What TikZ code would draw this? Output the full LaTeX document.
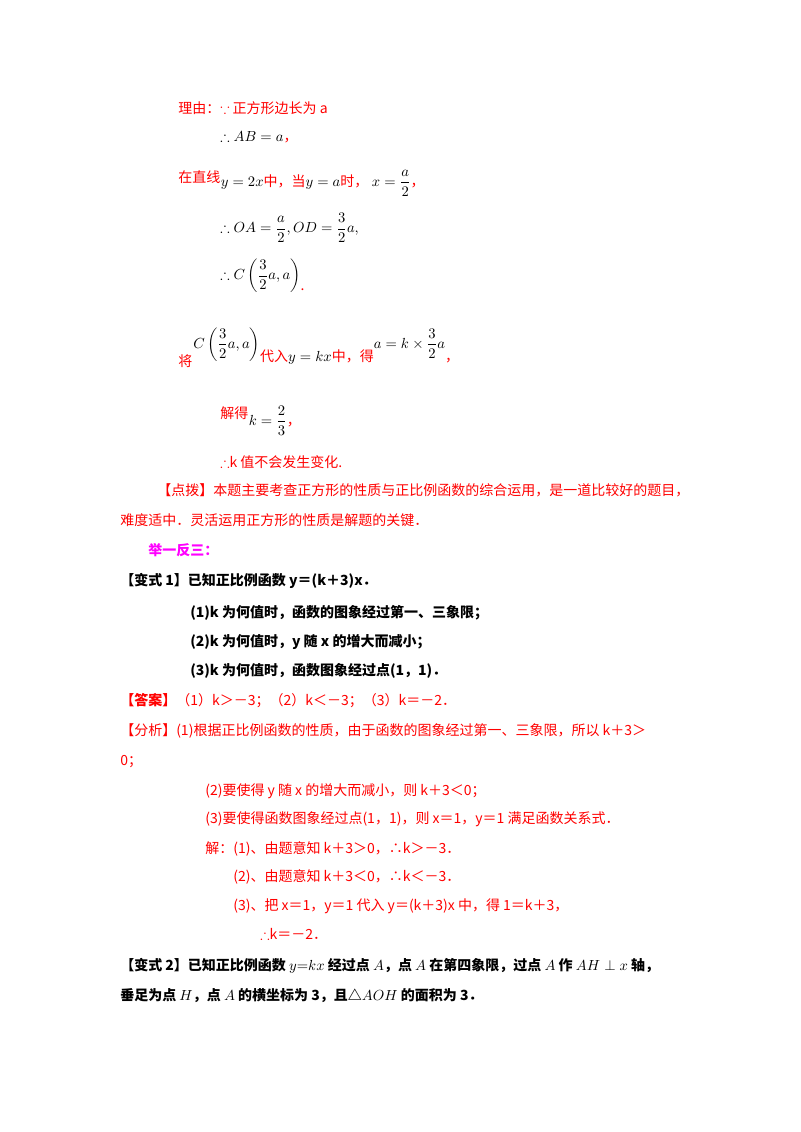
\documentclass[tikz,border=0pt]{standalone}
\usepackage{amsmath,amssymb}
\usepackage{fontspec}
\setmainfont{Liberation Serif}
\newfontfamily\cjk{Noto Sans CJK SC}
\definecolor{rd}{RGB}{255,0,0}
\definecolor{mg}{RGB}{255,0,255}
\begin{document}
\begin{tikzpicture}[x=0.75pt,y=-0.75pt,
  t/.style={anchor=base west,inner sep=0pt,font=\fontsize{10.5}{12}\selectfont\cjk},
  r/.style={t,text=rd},
  b/.style={t,text=black,font=\fontsize{10.5}{12}\selectfont\cjk\bfseries},
  m/.style={anchor=west,inner sep=0pt,font=\fontsize{10.5}{12}\selectfont}]
\useasboundingbox[fill=white] (0,0) rectangle (800,1132);
\node[r] (l1) at (178,113) {理由：$\because$ 正方形边长为 a};
\node[m] (l2) at (220,137) {$\therefore AB=a$\textcolor{rd}{\cjk ，}};
\node[r] (l3) at (178,182) {在直线};
\node[m] (l3b) at (l3.base east) [yshift=-1pt]{$y=2x$\textcolor{rd}{\cjk 中，当}$y=a$\textcolor{rd}{\cjk 时，}\ $x=\dfrac{a}{2}$\textcolor{rd}{\cjk ，}};
\node[m] (l4) at (220,228) {$\therefore OA=\dfrac{a}{2},OD=\dfrac{3}{2}a,$};
\node[m] (l5) at (220,276) {$\therefore C\left(\dfrac{3}{2}a,a\right)$\raisebox{-8pt}{\textcolor{rd}{\cjk .}}};
\node[r] (l6) at (178,366) {将};
\node[m] (l6b) at (193,346) {$C\left(\dfrac{3}{2}a,a\right)$\raisebox{-10pt}{\textcolor{rd}{\cjk 代入}$y=kx$\textcolor{rd}{\cjk 中，得}}\raisebox{0pt}{$a=k\times\dfrac{3}{2}a$}\raisebox{-10pt}{\textcolor{rd}{\cjk ，}}};
\node[r] (l7) at (220,418) {解得};
\node[m] (l7b) at (l7.base east) [yshift=-2pt,anchor=west]{$k=\dfrac{2}{3}$\textcolor{rd}{\cjk ，}};
\node[r] (l8) at (220,467) {$\therefore$k 值不会发生变化.};
\node[r] (p1) at (157,495) {【点拨】本题主要考查正方形的性质与正比例函数的综合运用，是一道比较好的题目，};
\node[r] (p2) at (120,525) {难度适中．灵活运用正方形的性质是解题的关键．};
\node[t,text=mg,font=\fontsize{10.5}{12}\selectfont\cjk\bfseries] (j) at (148,555) {举一反三：};
\node[b] (v1) at (120,585) {【变式 1】已知正比例函数 y＝(k＋3)x．};
\node[b] (v11) at (190,617) {(1)k 为何值时，函数的图象经过第一、三象限；};
\node[b] (v12) at (190,646) {(2)k 为何值时，y 随 x 的增大而减小；};
\node[b] (v13) at (190,675) {(3)k 为何值时，函数图象经过点(1，1)．};
\node[r] (da) at (120,705) {\textbf{【答案】}（1）k＞－3；（2）k＜－3；（3）k＝－2．};
\node[r] (f1) at (120,735) {【分析】(1)根据正比例函数的性质，由于函数的图象经过第一、三象限，所以 k＋3＞};
\node[r] (f1b) at (120,765) {0；};
\node[r] (f2) at (205,795) {(2)要使得 y 随 x 的增大而减小，则 k＋3＜0；};
\node[r] (f3) at (205,823) {(3)要使得函数图象经过点(1，1)，则 x＝1，y＝1 满足函数关系式．};
\node[r] (s1) at (205,853) {解：(1)、由题意知 k＋3＞0，∴k＞－3．};
\node[r] (s2) at (233,881) {(2)、由题意知 k＋3＜0，∴k＜－3．};
\node[r] (s3) at (233,910) {(3)、把 x＝1，y＝1 代入 y＝(k＋3)x 中，得 1＝k＋3，};
\node[r] (s4) at (260,939) {$\therefore$k＝－2．};
\node[b] (v2) at (120,970) {【变式 2】已知正比例函数 $y{=}kx$ 经过点 $A$，点 $A$ 在第四象限，过点 $A$ 作 $AH\perp x$ 轴，};
\node[b] (v2b) at (120,1000) {垂足为点 $H$，点 $A$ 的横坐标为 3，且△$AOH$ 的面积为 3．};
\end{tikzpicture}
\end{document}
